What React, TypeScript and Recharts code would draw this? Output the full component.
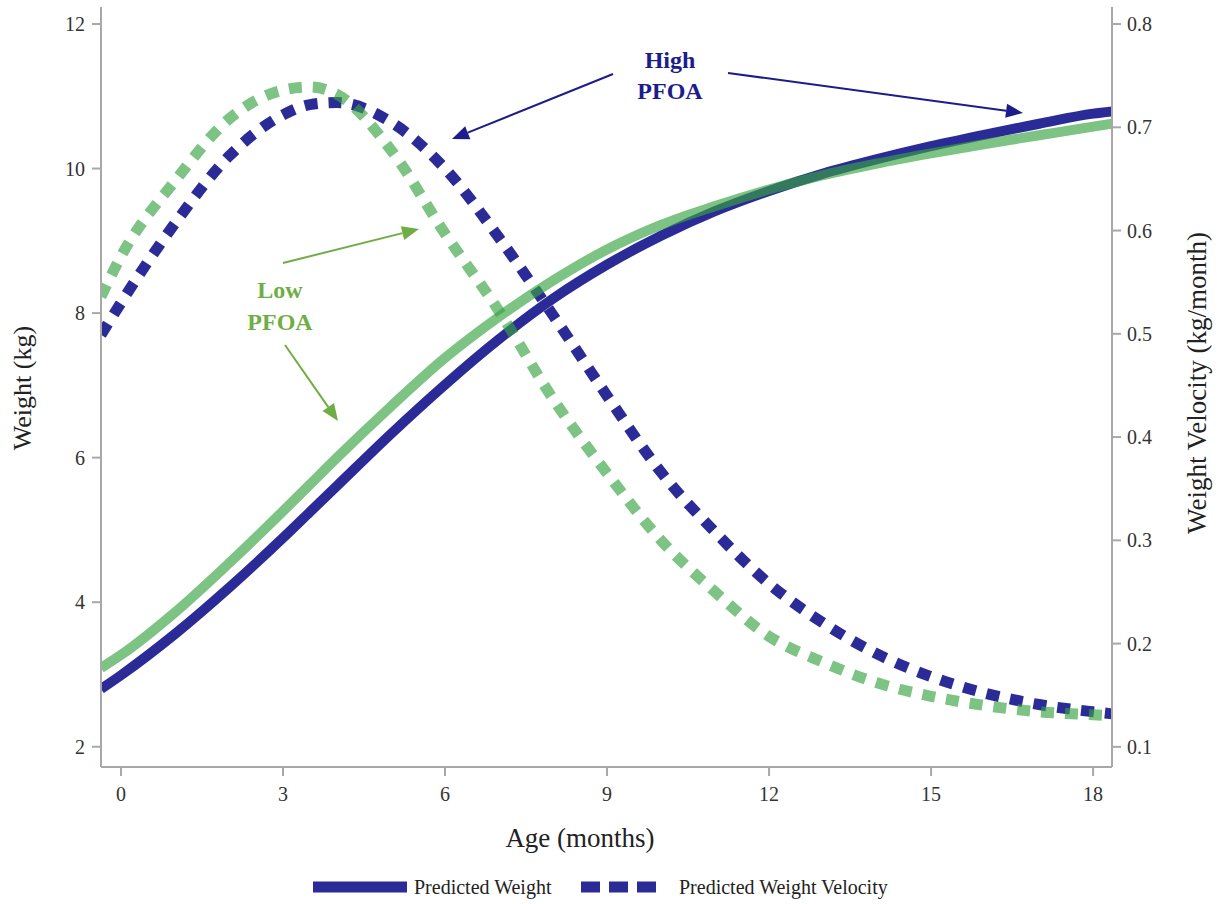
import { ComposedChart, Customized, Line, XAxis, YAxis } from "recharts";

// age in months (edges of the plot included so the curves reach the frame)
const ages = [-0.37, 0, 1, 2, 3, 3.5, 4, 5, 6, 7, 8, 9, 10, 11, 12, 13, 14, 15, 16, 17, 18, 18.35];

// predicted weight, kg (left axis)
const weightHigh = [2.8, 2.99, 3.56, 4.2, 4.89, 5.25, 5.61, 6.33, 7.01, 7.64, 8.2, 8.67, 9.07, 9.41, 9.69, 9.93, 10.13, 10.31, 10.47, 10.62, 10.76, 10.79];
const weightLow = [3.09, 3.27, 3.86, 4.54, 5.26, 5.63, 6.0, 6.71, 7.38, 7.95, 8.45, 8.88, 9.22, 9.48, 9.71, 9.91, 10.07, 10.21, 10.34, 10.46, 10.58, 10.62];

// predicted weight velocity, kg/month (right axis)
const velocityHigh = [0.499, 0.53, 0.607, 0.672, 0.712, 0.722, 0.724, 0.705, 0.66, 0.593, 0.518, 0.44, 0.366, 0.308, 0.258, 0.22, 0.19, 0.168, 0.152, 0.141, 0.134, 0.132];
const velocityLow = [0.536, 0.575, 0.648, 0.708, 0.736, 0.739, 0.732, 0.678, 0.597, 0.522, 0.437, 0.365, 0.3, 0.25, 0.207, 0.182, 0.162, 0.149, 0.14, 0.134, 0.131, 0.13];

const ageTicks = [0, 3, 6, 9, 12, 15, 18];
const weightTicks = [2, 4, 6, 8, 10, 12];
const velocityTicks = [0.1, 0.2, 0.3, 0.4, 0.5, 0.6, 0.7, 0.8];

const rows = ages.map((age, i) => ({
  age,
  weightHigh: weightHigh[i],
  weightLow: weightLow[i],
  velocityHigh: velocityHigh[i],
  velocityLow: velocityLow[i],
}));

const FONT = "'Liberation Serif', 'Times New Roman', serif";
const BLUE = "#14148c";
const GREEN = "#37a341";
const AXIS = "#a8a8a8";
const HIGH_TXT = "#1c1c8a";
const LOW_TXT = "#6fae45";

const tickStyle = { fill: "#333", fontSize: 20, fontFamily: FONT };

// arrow helper for the annotations
const Arrow = ({ x1, y1, x2, y2, color }: any) => {
  const a = Math.atan2(y2 - y1, x2 - x1);
  const len = 17;
  const w = 7;
  const bx = x2 - len * Math.cos(a);
  const by = y2 - len * Math.sin(a);
  const p1 = `${bx + w * Math.sin(a)},${by - w * Math.cos(a)}`;
  const p2 = `${bx - w * Math.sin(a)},${by + w * Math.cos(a)}`;
  return (
    <g>
      <line x1={x1} y1={y1} x2={bx} y2={by} stroke={color} strokeWidth={2} />
      <polygon points={`${x2},${y2} ${p1} ${p2}`} fill={color} />
    </g>
  );
};

const Annotations = () => (
  <g fontFamily={FONT} fontWeight="bold" fontSize={24} textAnchor="middle">
    <text x={670} y={68} fill={HIGH_TXT}>High</text>
    <text x={670} y={99} fill={HIGH_TXT}>PFOA</text>
    <Arrow x1={613} y1={74} x2={452} y2={139} color={HIGH_TXT} />
    <Arrow x1={728} y1={73} x2={1023} y2={113} color={HIGH_TXT} />

    <text x={280} y={298} fill={LOW_TXT}>Low</text>
    <text x={280} y={330} fill={LOW_TXT}>PFOA</text>
    <Arrow x1={283} y1={263} x2={419} y2={229} color={LOW_TXT} />
    <Arrow x1={285} y1={345} x2={338} y2={421} color={LOW_TXT} />

    {/* legend */}
    <line x1={313} y1={887} x2={407} y2={887} stroke="#2b2b98" strokeWidth={11} />
    <text x={414} y={894} fontWeight="normal" fontSize={20} textAnchor="start" fill="#222">
      Predicted Weight
    </text>
    <line x1={581} y1={887} x2={656} y2={887} stroke="#2b2b98" strokeWidth={11} strokeDasharray="19 9" />
    <text x={679} y={894} fontWeight="normal" fontSize={20} textAnchor="start" fill="#222">
      Predicted Weight Velocity
    </text>
  </g>
);

const LeftTitle = () => (
  <text x={22} y={388} transform="rotate(-90, 22, 388)" textAnchor="middle" dominantBaseline="central"
    fontFamily={FONT} fontSize={26} fill="#222">
    Weight (kg)
  </text>
);

const RightTitle = () => (
  <text x={1197} y={383} transform="rotate(-90, 1197, 383)" textAnchor="middle" dominantBaseline="central"
    fontFamily={FONT} fontSize={27} fill="#222">
    Weight Velocity (kg/month)
  </text>
);

const BottomTitle = () => (
  <text x={580} y={838} textAnchor="middle" dominantBaseline="central" fontFamily={FONT} fontSize={27} fill="#222">
    Age (months)
  </text>
);

export default function App() {
  return (
    <div style={{ position: "absolute", left: 0, top: 0, background: "#fff" }}>
      <ComposedChart
        width={1224}
        height={904}
        data={rows}
        margin={{ top: 7, right: 0, bottom: 67, left: 0 }}
      >
        <XAxis
          dataKey="age"
          type="number"
          domain={[-0.37, 18.35]}
          ticks={ageTicks}
          allowDataOverflow
          height={70}
          stroke={AXIS}
          strokeWidth={2}
          tickSize={9}
          tickMargin={11}
          tick={tickStyle}
          label={<BottomTitle />}
        />
        <YAxis
          yAxisId="w"
          type="number"
          domain={[1.72, 12.235]}
          ticks={weightTicks}
          allowDataOverflow
          width={101}
          stroke={AXIS}
          strokeWidth={2}
          tickSize={9}
          tickMargin={7}
          tick={tickStyle}
          label={<LeftTitle />}
        />
        <YAxis
          yAxisId="v"
          orientation="right"
          type="number"
          domain={[0.0805, 0.8165]}
          ticks={velocityTicks}
          allowDataOverflow
          width={112}
          stroke={AXIS}
          strokeWidth={2}
          tickSize={9}
          tickMargin={6}
          tick={tickStyle}
          label={<RightTitle />}
        />

        {/* high PFOA first, low PFOA (semi transparent) on top */}
        <Line yAxisId="w" dataKey="weightHigh" type="monotone" stroke={BLUE} strokeOpacity={0.9}
          strokeWidth={10} dot={false} isAnimationActive={false} />
        <Line yAxisId="v" dataKey="velocityHigh" type="monotone" stroke={BLUE} strokeOpacity={0.9}
          strokeWidth={11} strokeDasharray="13 11" dot={false} isAnimationActive={false} />
        <Line yAxisId="w" dataKey="weightLow" type="monotone" stroke={GREEN} strokeOpacity={0.65}
          strokeWidth={10} dot={false} isAnimationActive={false} />
        <Line yAxisId="v" dataKey="velocityLow" type="monotone" stroke={GREEN} strokeOpacity={0.65}
          strokeWidth={11} strokeDasharray="13 11" dot={false} isAnimationActive={false} />

        <Customized component={<Annotations />} />
      </ComposedChart>
    </div>
  );
}
